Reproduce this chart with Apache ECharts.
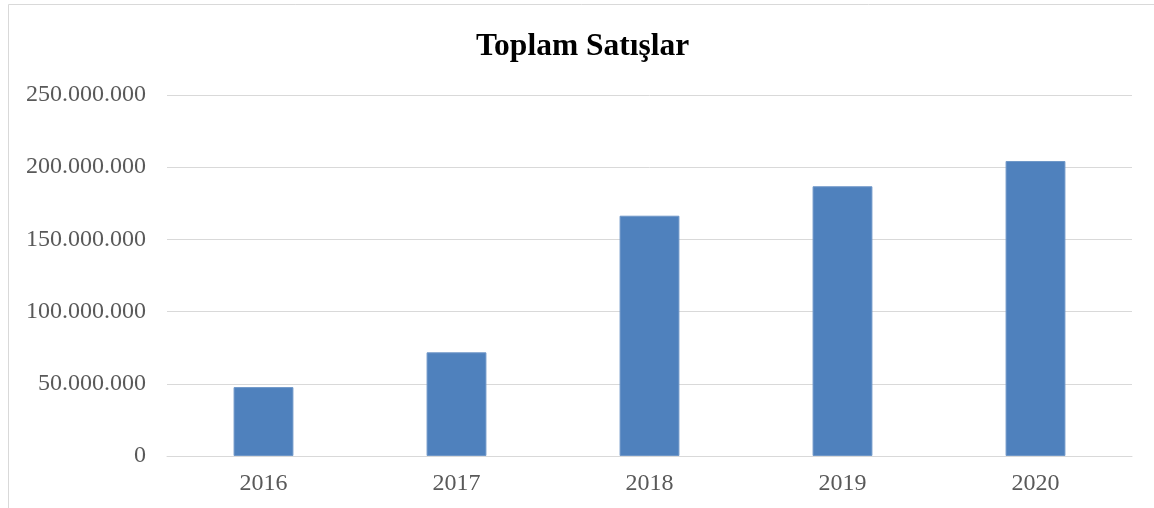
<!DOCTYPE html>
<html><head><meta charset="utf-8">
<script src="https://cdn.jsdelivr.net/npm/echarts@6/dist/echarts.min.js"></script>
<style>html,body{margin:0;padding:0;background:#fff;}#c{width:1154px;height:508px;}</style>
</head><body><div id="c"></div>
<script>
const titleText = 'Toplam Satışlar';
const years = ['2016', '2017', '2018', '2019', '2020'];
const sales = [47700000, 71800000, 166400000, 186800000, 204300000];
const yTicks = [0, 50000000, 100000000, 150000000, 200000000, 250000000];

const fmt = v => String(v).replace(/\B(?=(\d{3})+(?!\d))/g, '.');
const chart = echarts.init(document.getElementById('c'));
chart.setOption({
  animation: false,
  backgroundColor: '#ffffff',
  graphic: [{type: 'rect', shape: {x: 8.5, y: 4.5, width: 1160, height: 520}, style: {fill: 'none', stroke: '#d9d9d9', lineWidth: 1}, silent: true}],
  title: {text: titleText, left: 476, top: 31, padding: 0,
    textStyle: {fontFamily: 'Liberation Serif', fontWeight: 'bold', fontSize: 31.5, color: '#000'}},
  grid: {left: 167, right: 22, top: 95, bottom: 52},
  xAxis: {type: 'category', data: years,
    axisLine: {lineStyle: {color: '#d9d9d9', width: 1}}, axisTick: {show: false},
    axisLabel: {fontFamily: 'Liberation Serif', fontSize: 24, color: '#595959', margin: 16}},
  yAxis: {type: 'value', min: yTicks[0], max: yTicks[yTicks.length - 1], interval: yTicks[1] - yTicks[0],
    axisLine: {show: false}, axisTick: {show: false},
    splitLine: {lineStyle: {color: '#d9d9d9', width: 1}},
    axisLabel: {fontFamily: 'Liberation Serif', fontSize: 24, color: '#595959', margin: 21, formatter: fmt}},
  series: [{type: 'bar', data: sales, barWidth: '31%',
    itemStyle: {color: '#4f81bd', borderColor: '#6f97c8', borderWidth: 1}}]
});
</script></body></html>
